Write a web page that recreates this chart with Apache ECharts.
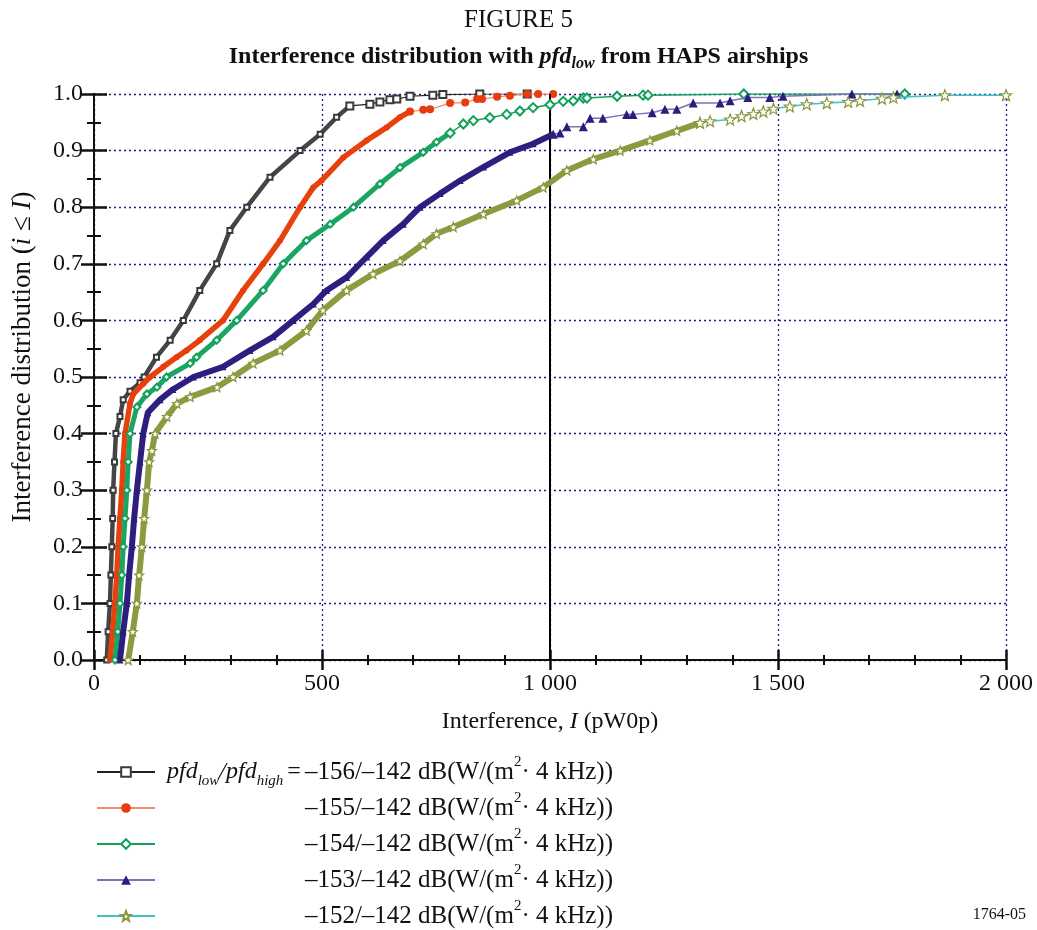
<!DOCTYPE html>
<html><head><meta charset="utf-8">
<script src="https://cdn.jsdelivr.net/npm/echarts@6/dist/echarts.min.js"></script>
<style>html,body{margin:0;padding:0;background:#fff}#chart{width:1037px;height:930px}</style>
</head><body><div id="chart"></div>
<script>
const FONT = '"Liberation Serif", "Times New Roman", serif';

// ---- tick labels ----
const xTickLabels = ['0', '500', '1 000', '1 500', '2 000'];
const yTickLabels = ['0.0','0.1','0.2','0.3','0.4','0.5','0.6','0.7','0.8','0.9','1.0'];
const refLinesX = [1000];

// ---- legend texts ----
const seriesLevels = ['–156/–142', '–155/–142', '–154/–142', '–153/–142', '–152/–142'];

// ---- data: [I (pW0p), P(i <= I)] ----
const cdf156Dense = [[28,0],[31,0.05],[35,0.1],[37,0.15],[39,0.2],[41,0.25],[42,0.3],[45,0.35],[48,0.4],[57,0.43],[64,0.46],[79,0.475],[101,0.49],[110,0.5],[137,0.535],[167,0.565],[196,0.6],[232,0.653],[269,0.7],[298,0.759],[335,0.8],[386,0.853],[452,0.9],[496,0.929],[532,0.959],[561,0.979]];
const cdf156Tail = [[561,0.979],[605,0.982],[627,0.986],[649,0.99],[664,0.991],[693,0.996],[743,0.998],[765,0.999],[846,1.0],[950,1.0]];

const cdf155Dense = [[35,0],[41,0.05],[46,0.1],[50,0.15],[53,0.2],[57,0.25],[61,0.3],[64,0.35],[68,0.4],[79,0.453],[86,0.47],[108,0.488],[123,0.5],[152,0.518],[181,0.535],[203,0.547],[232,0.565],[283,0.6],[327,0.653],[371,0.7],[408,0.741],[452,0.8],[481,0.835],[499,0.847],[547,0.888],[598,0.918],[642,0.941],[671,0.959],[693,0.969]];
const cdf155Tail = [[693,0.969],[722,0.972],[737,0.973],[781,0.984],[814,0.985],[840,0.991],[851,0.991],[884,0.995],[912,0.997],[950,1.0],[974,1.0],[1007,1.0]];

const cdf154Dense = [[46,0],[52,0.05],[57,0.1],[61,0.15],[64,0.2],[68,0.25],[72,0.3],[75,0.35],[79,0.4],[94,0.447],[116,0.47],[138,0.482],[159,0.5],[211,0.524],[225,0.535],[269,0.565],[313,0.6],[371,0.653],[415,0.7],[466,0.741],[518,0.77],[569,0.8],[627,0.841],[671,0.87],[722,0.897],[751,0.915],[781,0.931]];
const cdf154Tail = [[781,0.931],[810,0.947],[832,0.953],[868,0.958],[905,0.964],[934,0.97],[963,0.976],[1000,0.981],[1029,0.987],[1051,0.988],[1073,0.993],[1081,0.993],[1147,0.996],[1204,0.998],[1215,0.998],[1425,1.0],[1778,1.0]];

const cdf153Dense = [[57,0],[64,0.05],[72,0.1],[77,0.15],[83,0.2],[88,0.25],[94,0.3],[101,0.35],[108,0.4],[118,0.437],[145,0.46],[173,0.478],[218,0.5],[283,0.518],[342,0.547],[393,0.571],[437,0.6],[481,0.629],[510,0.653],[554,0.676],[598,0.712],[634,0.741],[678,0.77],[715,0.8],[759,0.824],[803,0.847],[854,0.871],[912,0.897],[963,0.912],[1007,0.929]];
const cdf153Tail = [[1007,0.929],[1022,0.931],[1037,0.942],[1073,0.942],[1088,0.957],[1116,0.957],[1168,0.964],[1182,0.964],[1224,0.967],[1252,0.973],[1278,0.973],[1314,0.984],[1373,0.984],[1395,0.988],[1434,0.994],[1482,0.994],[1511,0.996],[1662,1.0],[1761,1.0]];

const cdf152Dense = [[75,0],[85,0.05],[94,0.1],[99,0.15],[105,0.2],[110,0.25],[116,0.3],[121,0.35],[127,0.37],[134,0.4],[160,0.43],[182,0.453],[211,0.465],[270,0.482],[305,0.5],[349,0.524],[408,0.547],[466,0.582],[502,0.618],[554,0.653],[612,0.682],[671,0.705],[722,0.735],[751,0.753],[788,0.765],[854,0.788],[927,0.812],[985,0.835],[1037,0.865],[1095,0.885],[1154,0.9],[1219,0.918],[1278,0.935],[1329,0.949]];
const cdf152Tail = [[1329,0.949],[1351,0.952],[1395,0.955],[1420,0.961],[1446,0.965],[1468,0.969],[1490,0.974],[1526,0.978],[1563,0.982],[1607,0.984],[1654,0.986],[1680,0.988],[1728,0.992],[1753,0.994],[1866,0.998],[2000,0.998]];

// ---- styles ----
const STAR = 'path://M12,1 L14.9,8.6 L23,9 L16.7,14.1 L18.9,22 L12,17.5 L5.1,22 L7.3,14.1 L1,9 L9.1,8.6 Z';
const styles = [
  {symbol:'emptyRect', mark:'#3a3a3a', line:'#222222', band:'#454545', bw:4.5, size:7, tailW:1.2},
  {symbol:'circle', mark:'#e63c0e', line:'#f28a6c', band:'#e8420c', bw:5.5, size:8, tailW:1.3},
  {symbol:'emptyDiamond', mark:'#13a05a', line:'#13a05a', band:'#1aa562', bw:5, size:9, tailW:1.5},
  {symbol:'triangle', mark:'#2c1c7c', line:'#2c1c7c', band:'#2e1e80', bw:6, size:9, tailW:1.5, tailLine:'#7d72b8'},
  {symbol:STAR, mark:'#8a963a', line:'#3fc3c8', band:'#8c9a40', bw:6, size:11, tailW:1.5, hollow:true}
];
const denseData = [cdf156Dense, cdf155Dense, cdf154Dense, cdf153Dense, cdf152Dense];
const tailData = [cdf156Tail, cdf155Tail, cdf154Tail, cdf153Tail, cdf152Tail];

// measure legend prefix width for alignment
const cv = document.createElement('canvas').getContext('2d');
function tw(t, font){ cv.font = font; return cv.measureText(t).width; }
const EQPAD = 4;
const prefixW = tw('pfd', 'italic 24px ' + FONT) + tw('low', 'italic 15px ' + FONT) + tw('/pfd', 'italic 24px ' + FONT) + tw('high', 'italic 15px ' + FONT)
  + 2 * EQPAD + tw('=', '24px ' + FONT);

const series = [];
series.push({
  type:'line', name:'ref', data:[], z:1, silent:true,
  markLine:{silent:true, symbol:['none','none'], label:{show:false}, animation:false,
    lineStyle:{color:'#000', width:2, type:'solid'},
    data: refLinesX.map(v => ({xAxis:v}))}
});
styles.forEach((s, i) => {
  const itemStyle = s.hollow ? {color:'#ffffff', borderColor:s.mark, borderWidth:1.2} : {color:s.mark};
  series.push({
    type:'line', name:'dense' + i, data:denseData[i], z:3 + i,
    symbol:s.symbol, symbolSize:s.size - 2, showSymbol:true,
    lineStyle:{color:s.band, width:s.bw}, itemStyle:itemStyle, emphasis:{disabled:true}
  });
  series.push({
    type:'line', name:seriesLevels[i], data:tailData[i], z:3 + i,
    symbol:s.symbol, symbolSize:s.size, showSymbol:true,
    lineStyle:{color:s.tailLine || s.line, width:s.tailW}, itemStyle:itemStyle, emphasis:{disabled:true}
  });
});

const rich = {
  n:{fontFamily:FONT, fontSize:25, lineHeight:34, color:'#111'},
  eq:{fontFamily:FONT, fontSize:24, lineHeight:34, color:'#111', padding:[0, EQPAD, 0, EQPAD]},
  it:{fontFamily:FONT, fontSize:24, lineHeight:34, fontStyle:'italic', color:'#111'},
  sub:{fontFamily:FONT, fontSize:15, lineHeight:15, fontStyle:'italic', verticalAlign:'bottom', color:'#111'},
  sup:{fontFamily:FONT, fontSize:15, lineHeight:15, verticalAlign:'top', color:'#111'},
  gap:{width:7, lineHeight:34},
  pad:{width:7 + prefixW, lineHeight:34}
};
const rowCenters = [770, 806, 842, 878, 914];
const legends = seriesLevels.map((name, i) => ({
  data:[name], orient:'vertical', left:96, top:rowCenters[i] - 15,
  itemWidth:58, itemHeight:12, selectedMode:false, padding:0,
  textStyle:{rich:rich, height:34, lineHeight:34},
  formatter:function(nm){
    const head = i === 0 ? '{gap|}{it|pfd}{sub|low}{it|/pfd}{sub|high}{eq|=}' : '{pad|}';
    return head + '{n|' + nm + ' dB(W/(m}{sup|2}{n|· 4 kHz))}';
  }
}));

const axisCommon = {
  type:'value', min:0, max:2000, interval:500,
  axisLine:{show:true, lineStyle:{color:'#111', width:2}},
  axisTick:{show:true, inside:true, length:10, lineStyle:{color:'#111', width:2.5}},
  minorTick:{show:true, splitNumber:5, length:5, lineStyle:{color:'#111', width:2}},
};
const yCommon = {
  type:'value', min:0, max:1, interval:0.1,
  axisLine:{show:true, lineStyle:{color:'#111', width:2}},
  axisTick:{show:true, inside:true, length:13, lineStyle:{color:'#111', width:2.5}},
  minorTick:{show:true, splitNumber:2, length:7, lineStyle:{color:'#111', width:2}},
};

const option = {
  animation:false,
  backgroundColor:'#fff',
  title:[
    {text:'FIGURE 5', left:'center', top:3, textStyle:{fontFamily:FONT, fontSize:25, fontWeight:'normal', color:'#111'}},
    {text:'{b|Interference distribution with }{bi|pfd}{bs|low}{b| from HAPS airships}', left:'center', top:37,
     textStyle:{rich:{
       b:{fontFamily:FONT, fontSize:24, fontWeight:'bold', lineHeight:30, color:'#111'},
       bi:{fontFamily:FONT, fontSize:24, fontWeight:'bold', fontStyle:'italic', lineHeight:30, color:'#111'},
       bs:{fontFamily:FONT, fontSize:16, fontWeight:'bold', fontStyle:'italic', lineHeight:15, verticalAlign:'bottom', color:'#111'}
     }}},
    {text:'1764-05', right:6, bottom:2, textStyle:{fontFamily:FONT, fontSize:16, fontWeight:'normal', color:'#111'}}
  ],
  grid:{left:94, right:31, top:94, bottom:270, containLabel:false, outerBoundsMode:'none'},
  legend:legends,
  xAxis:[
    Object.assign({}, axisCommon, {
      position:'bottom',
      name:'{n|Interference, }{it|I}{n| (pW0p)}', nameLocation:'middle', nameGap:50,
      nameTextStyle:{rich:{n:{fontFamily:FONT, fontSize:24, color:'#111'}, it:{fontFamily:FONT, fontSize:24, fontStyle:'italic', color:'#111'}}},
      axisLabel:{show:true, margin:12, fontFamily:FONT, fontSize:24, color:'#111',
        formatter:function(v){ return xTickLabels[Math.round(v/500)]; }},
      splitLine:{show:true, lineStyle:{color:'#1e1a82', width:1.3, type:[2,3]}}
    }),
    Object.assign({}, axisCommon, {
      position:'top', axisLabel:{show:false}, splitLine:{show:false}
    })
  ],
  yAxis:[
    Object.assign({}, yCommon, {
      position:'left',
      name:'{n|Interference distribution (}{it|i}{n| ≤ }{it|I}{n|)}', nameLocation:'middle', nameGap:58,
      nameTextStyle:{padding:[0,0,0,40], rich:{n:{fontFamily:FONT, fontSize:27, color:'#111'}, it:{fontFamily:FONT, fontSize:27, fontStyle:'italic', color:'#111'}}},
      axisLabel:{show:true, margin:11, fontFamily:FONT, fontSize:24, color:'#111',
        formatter:function(v){ return yTickLabels[Math.round(v*10)]; }},
      splitLine:{show:true, lineStyle:{color:'#1e1a82', width:1.3, type:[2,3]}}
    }),
    Object.assign({}, yCommon, {
      position:'right', axisLabel:{show:false}, splitLine:{show:false}
    })
  ],
  series:series
};

const chart = echarts.init(document.getElementById('chart'), null, {renderer:'canvas'});
chart.setOption(option);
</script></body></html>
